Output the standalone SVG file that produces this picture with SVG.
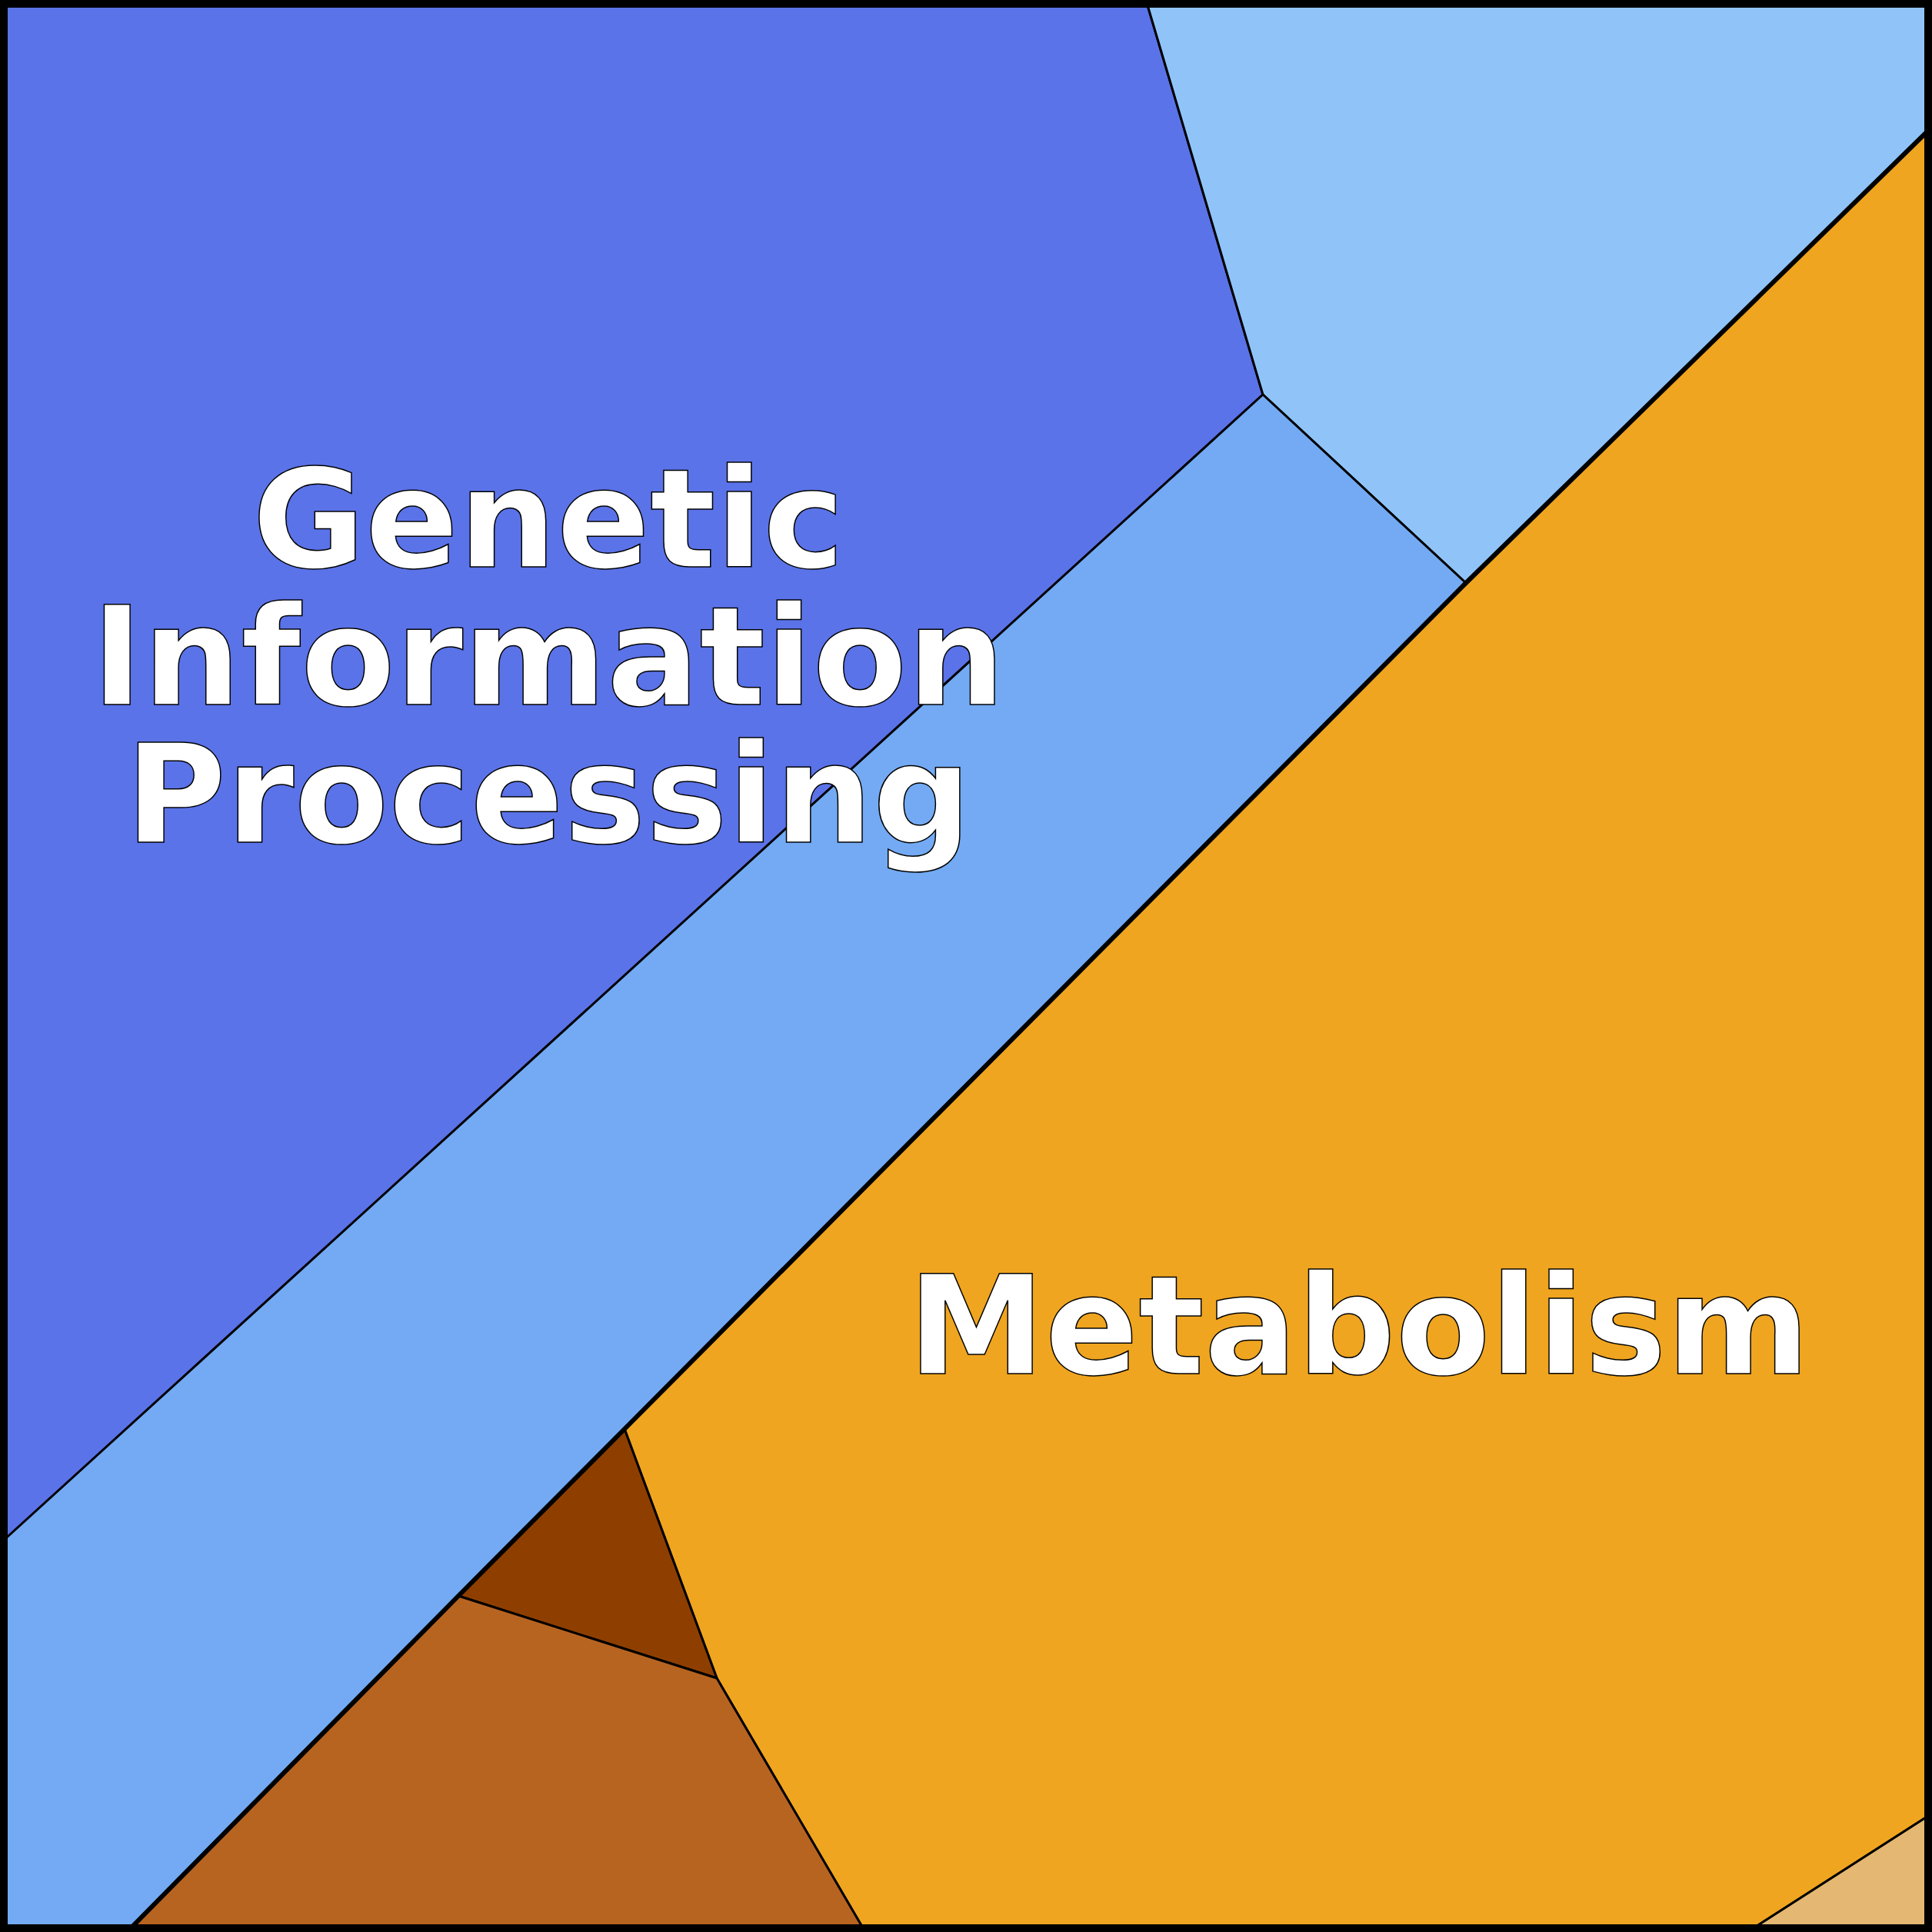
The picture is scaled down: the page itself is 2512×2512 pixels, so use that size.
<svg xmlns="http://www.w3.org/2000/svg" width="2512" height="2512" viewBox="0 0 2512 2512">
<style>
.r{stroke:#000;stroke-width:3;stroke-linejoin:round}
.t{font-family:"DejaVu Sans",sans-serif;font-weight:bold;font-size:179px;fill:#fff;stroke:#000;stroke-width:1.5;text-anchor:middle}
</style>
<g id="gip"><polygon class="r" fill="#5B73E8" points="0,0 1490,0 1642,513 8,2007 0,2007"/></g>
<g id="sky"><polygon class="r" fill="#90C4F9" points="1490,0 2512,0 2512,165 1906,758 1642,513"/></g>
<g id="mid"><polygon class="r" fill="#73AAF3" points="1642,513 1906,758 812,1858 596,2075 165,2512 0,2512 0,2007"/></g>
<g id="met"><polygon class="r" fill="#EFA520" points="2512,165 2512,2358 2272,2512 1125,2512 932,2182 812,1858 1906,758"/></g>
<g id="dbrown"><polygon class="r" fill="#8E3F00" points="812,1858 932,2182 596,2075"/></g>
<g id="brown"><polygon class="r" fill="#B86421" points="596,2075 932,2182 1125,2512 165,2512"/></g>
<g id="tan"><polygon class="r" fill="#E4B872" points="2512,2358 2512,2512 2272,2512"/></g>
<g id="connectors"><polyline points="2512,165 1906,758 812,1858 596,2075 165,2512" fill="none" stroke="#000" stroke-width="6" stroke-linejoin="round"/></g>
<rect x="5" y="5" width="2502" height="2502" fill="none" stroke="#000" stroke-width="10"/>
<g id="labels">
<text class="t" x="713" y="737">Genetic</text>
<text class="t" x="713" y="916">Information</text>
<text class="t" x="713" y="1095">Processing</text>
<text class="t" x="1767" y="1786">Metabolism</text>
</g>
</svg>
